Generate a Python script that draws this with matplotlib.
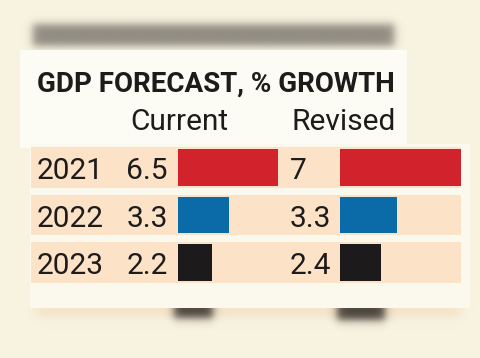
import numpy as np
import matplotlib
matplotlib.use("Agg")
import matplotlib.pyplot as plt
from matplotlib.colors import to_rgb
from matplotlib.patches import Rectangle

years = ["2021", "2022", "2023"]
current = [6.5, 3.3, 2.2]
revised = [7, 3.3, 2.4]
bar_colors = ["#d2222b", "#0a6ba8", "#1d1a1b"]
title = "GDP FORECAST, % GROWTH"
col_labels = ["Current", "Revised"]

W, H = 480, 358
ink = "#1e1b1b"
fonts = ["Roboto", "DejaVu Sans"]
body_size = 21.5

fig = plt.figure(figsize=(W / 100, H / 100), dpi=100)
fig.patch.set_facecolor("#f7f3e0")

# background layer, in pixel coordinates
bg = fig.add_axes([0, 0, 1, 1])
bg.axis("off")


def soft_box(ax, x0, x1, y0, y1, color, alpha, edge):
    # blurred rectangle for the out-of-focus parts of the photo
    xs = np.linspace(x0 - 3 * edge, x1 + 3 * edge, 240)
    ys = np.linspace(y0 - 3 * edge, y1 + 3 * edge, 90)
    fx = 0.5 * (np.tanh((xs - x0) / edge) - np.tanh((xs - x1) / edge))
    fy = 0.5 * (np.tanh((ys - y0) / edge) - np.tanh((ys - y1) / edge))
    rgba = np.zeros((len(ys), len(xs), 4))
    rgba[..., :3] = to_rgb(color)
    rgba[..., 3] = alpha * np.outer(fy, fx)
    ax.imshow(rgba, extent=(xs[0], xs[-1], ys[-1], ys[0]), aspect="auto",
              interpolation="bilinear", zorder=1)


soft_box(bg, 32, 395, 24, 46, "#7d786f", 0.85, 5)
soft_box(bg, 35, 462, 304, 316, "#f3c9a2", 0.45, 6)
soft_box(bg, 174, 213, 300, 318, "#2a2520", 0.85, 5)
soft_box(bg, 337, 385, 300, 320, "#2a2520", 0.85, 5)

bg.add_patch(Rectangle((20, 50), 387, 98, color="#fdfcf4", zorder=2, lw=0))
bg.add_patch(Rectangle((30, 144), 440, 164, color="#fbf9ee", zorder=2, lw=0))

bg.text(37, 92, title, fontsize=20, fontweight="bold", family=fonts,
        color=ink, va="baseline", zorder=3)
bg.text(130, 130, col_labels[0], fontsize=body_size, family=fonts, color=ink,
        va="baseline", zorder=3)
bg.text(291, 130, col_labels[1], fontsize=body_size, family=fonts, color=ink,
        va="baseline", zorder=3)
bg.set_xlim(0, W)
bg.set_ylim(H, 0)

# rows: one band per year, 47.5 px apart
row_top, row_bot = 143.75, 286.25
pos_y = (H - row_bot) / H
pos_h = (row_bot - row_top) / H
rows = np.arange(len(years))

band = fig.add_axes([0, pos_y, 1, pos_h])
band.axis("off")
band.barh(rows, 430, left=31, height=0.86, color="#fce3c8", lw=0)
for i, yr in enumerate(years):
    band.text(37, i + 0.25, yr, fontsize=body_size, family=fonts, color=ink,
              va="baseline")
    band.text(168, i + 0.25, f"{current[i]}", fontsize=body_size, family=fonts,
              color=ink, va="baseline", ha="right")
    band.text(290, i + 0.25, f"{revised[i]}", fontsize=body_size, family=fonts,
              color=ink, va="baseline", ha="left")
band.set_xlim(0, W)
band.set_ylim(len(years) - 0.5, -0.5)

# current bars: 15.46 px per point, revised: 17.36 px per point
ax_cur = fig.add_axes([177.5 / W, pos_y, 120 / W, pos_h])
ax_cur.barh(rows, current, height=0.76, color=bar_colors, lw=0)
ax_cur.set_xlim(0, 120 / 15.46)
ax_cur.set_ylim(len(years) - 0.5, -0.5)
ax_cur.axis("off")

ax_rev = fig.add_axes([339.5 / W, pos_y, 130 / W, pos_h])
ax_rev.barh(rows, revised, height=0.76, color=bar_colors, lw=0)
ax_rev.set_xlim(0, 130 / 17.36)
ax_rev.set_ylim(len(years) - 0.5, -0.5)
ax_rev.axis("off")

fig.savefig("out.png", dpi=100, facecolor=fig.get_facecolor())
